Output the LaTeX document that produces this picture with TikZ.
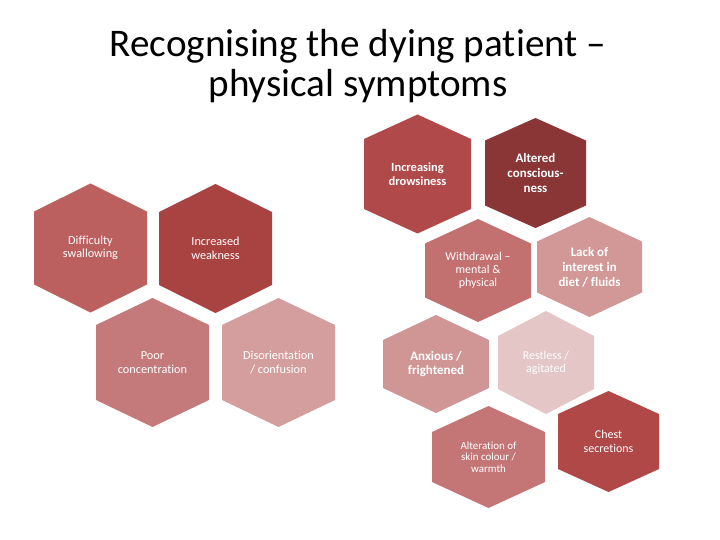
\documentclass[tikz,border=0pt]{standalone}
\usepackage{fontspec}
\setmainfont{Carlito}[Ligatures=CommonOff]
\definecolor{diffred}{RGB}{187,95,95}
\definecolor{weakred}{RGB}{169,67,66}
\definecolor{poorred}{RGB}{196,122,122}
\definecolor{disorred}{RGB}{212,158,158}
\definecolor{drowsred}{RGB}{176,74,74}
\definecolor{alterred}{RGB}{139,54,54}
\definecolor{withdred}{RGB}{194,112,112}
\definecolor{lackred}{RGB}{210,152,152}
\definecolor{anxred}{RGB}{208,150,150}
\definecolor{restred}{RGB}{228,198,198}
\definecolor{skinred}{RGB}{196,117,117}
\definecolor{chestred}{RGB}{176,72,72}
% name, centre x, centre y, half width, half height, half side, colour
\newcommand{\hexcell}[7]{%
  \fill[#7] (#2,#3) ++(0,-#5) -- ++(#4,#5-#6) -- ++(0,2*#6) -- ++(-#4,#5-#6)
    -- ++(-#4,-#5+#6) -- ++(0,-2*#6) -- cycle;
  \coordinate (#1) at (#2,#3);}
\tikzset{
  title/.style={font=\fontsize{39.3}{40}\selectfont, inner sep=0pt},
  cell/.style={text=white, align=center, inner sep=0pt},
  cellreg/.style={cell, font=\fontsize{12.3}{13.5}\selectfont},
  cellbold/.style={cell, font=\bfseries\fontsize{13}{14.5}\selectfont},
}
\begin{document}
\begin{tikzpicture}[x=1bp, y=-1bp]
\useasboundingbox (0,0) rectangle (720,540);
\node[title, anchor=base] (title1) at (358,56.5) {Recognising the dying patient –};
\node[title, anchor=base] (title2) at (358,96.5) {physical symptoms};
% left group
\hexcell{diff}{90.5}{248}{56.5}{64.5}{36.5}{diffred}
\hexcell{weak}{215.5}{248.5}{56.5}{64.5}{36.5}{weakred}
\hexcell{poor}{152.5}{362.5}{56.5}{64.5}{37.5}{poorred}
\hexcell{disor}{278.5}{362.5}{56.5}{64.5}{37.5}{disorred}
\node[cellreg] (difftext) at (diff) {Difficulty\\swallowing};
\node[cellreg] (weaktext) at (weak) {Increased\\weakness};
\node[cellreg] (poortext) at (poor) {Poor\\concentration};
\node[cellreg] (disortext) at (disor) {Disorientation\\/ confusion};
% right group
\hexcell{drows}{417.5}{174}{53.5}{59.5}{35}{drowsred}
\hexcell{alter}{535.5}{173}{50.5}{55}{32.5}{alterred}
\hexcell{withd}{478}{270.5}{53}{51.5}{27}{withdred}
\hexcell{lack}{589.5}{267}{52.5}{50}{25.5}{lackred}
\hexcell{anx}{436}{364}{53}{49}{24}{anxred}
\hexcell{rest}{546}{362.5}{48}{51.5}{26.5}{restred}
\hexcell{skin}{488.5}{457}{56.5}{51}{25}{skinred}
\hexcell{chest}{608.5}{441.5}{50.5}{50.5}{27.5}{chestred}
\node[cellbold, font=\bfseries\fontsize{12.5}{14}\selectfont] (drowstext) at (drows) {Increasing\\drowsiness};
\node[cellbold, font=\bfseries\fontsize{13}{15}\selectfont] (altertext) at (alter) {Altered\\conscious-\\ness};
\node[cellreg, font=\fontsize{12}{13}\selectfont] (withdtext) at (withd) {Withdrawal –\\mental \&\\physical};
\node[cellbold, font=\bfseries\fontsize{13}{15}\selectfont] (lacktext) at (lack) {Lack of\\interest in\\diet / fluids};
\node[cellbold] (anxtext) at (anx) {Anxious /\\frightened};
\node[cellreg, font=\fontsize{12}{13}\selectfont] (resttext) at (rest) {Restless /\\agitated};
\node[cellreg, font=\fontsize{11}{11.7}\selectfont] (skintext) at (skin) {Alteration of\\skin colour /\\warmth};
\node[cellreg, font=\fontsize{12}{14}\selectfont] (chesttext) at (chest) {Chest\\secretions};
\end{tikzpicture}
\end{document}
